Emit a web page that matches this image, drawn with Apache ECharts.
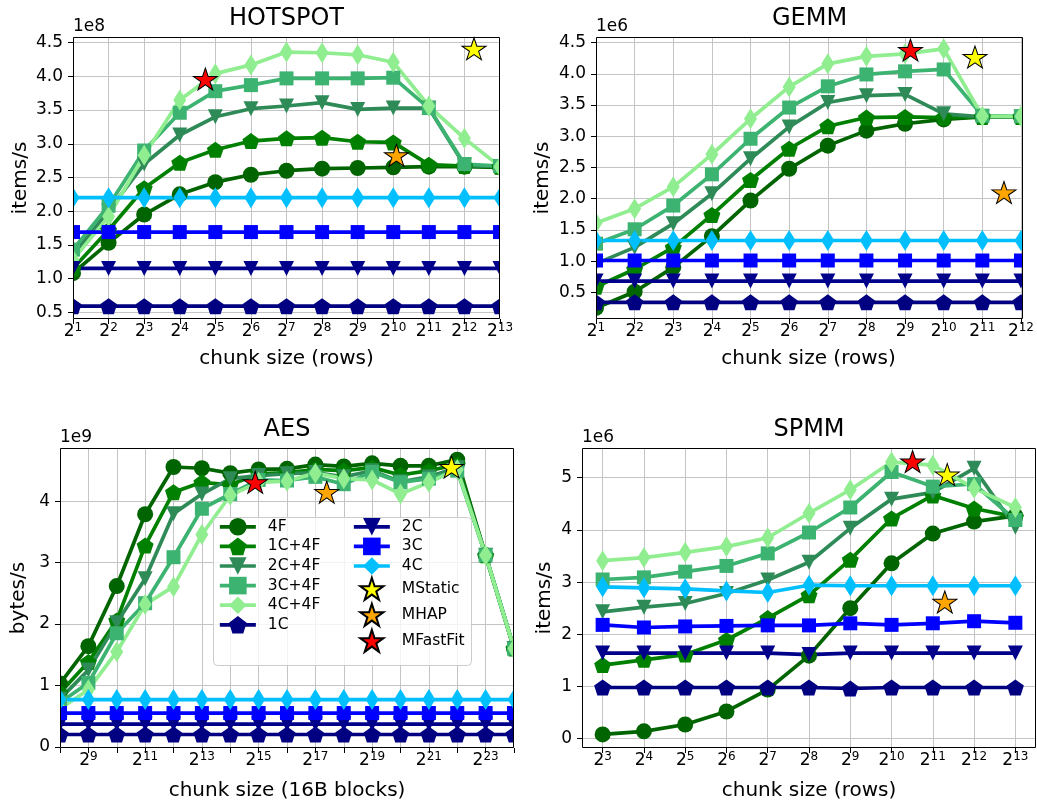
<!DOCTYPE html>
<html><head><meta charset="utf-8">
<script src="https://cdn.jsdelivr.net/npm/echarts@6/dist/echarts.min.js"></script>
<style>html,body{margin:0;padding:0;background:#fff;}#c{width:1037px;height:806px;}</style>
</head><body><div id="c"></div>
<script>
// ================= DATA =================
const seriesNames = ['4F','1C+4F','2C+4F','3C+4F','4C+4F','1C','2C','3C','4C'];
const starNames = ['MStatic','MHAP','MFastFit'];

// ---- HOTSPOT (items/s, x1e8); x = log2(chunk size in rows)
const hotspotExp   = [1,2,3,4,5,6,7,8,9,10,11,12,13];
const hotspot4F    = [1.08,1.53,1.95,2.25,2.43,2.54,2.60,2.63,2.64,2.65,2.66,2.66,2.65];
const hotspot1C4F  = [1.15,1.72,2.34,2.72,2.91,3.04,3.08,3.09,3.03,3.02,2.69,2.67,2.66];
const hotspot2C4F  = [1.35,2.00,2.70,3.13,3.40,3.52,3.56,3.61,3.51,3.53,3.53,2.68,2.66];
const hotspot3C4F  = [1.43,2.08,2.90,3.46,3.78,3.87,3.97,3.97,3.97,3.98,3.53,2.70,2.67];
const hotspot4C4F  = [1.28,1.92,2.83,3.65,4.04,4.17,4.36,4.35,4.32,4.21,3.56,3.08,2.66];
const hotspot1C    = [0.59,0.59,0.59,0.59,0.59,0.59,0.59,0.59,0.59,0.59,0.59,0.59,0.59];
const hotspot2C    = [1.15,1.15,1.15,1.15,1.15,1.15,1.15,1.15,1.15,1.15,1.15,1.15,1.15];
const hotspot3C    = [1.69,1.69,1.69,1.69,1.69,1.69,1.69,1.69,1.69,1.69,1.69,1.69,1.69];
const hotspot4C    = [2.20,2.20,2.20,2.20,2.20,2.20,2.20,2.20,2.20,2.20,2.20,2.20,2.20];
const hotspotMStatic  = [12.27, 4.41];
const hotspotMHAP     = [10.09, 2.83];
const hotspotMFastFit = [4.72, 3.96];
const hotspotXTicks = [1,2,3,4,5,6,7,8,9,10,11,12,13];
const hotspotYTicks = [0.5,1.0,1.5,2.0,2.5,3.0,3.5,4.0,4.5];

// ---- GEMM (items/s, x1e6)
const gemmExp   = [1,2,3,4,5,6,7,8,9,10,11,12];
const gemm4F    = [0.25,0.51,0.90,1.40,1.97,2.48,2.85,3.09,3.20,3.27,3.31,3.31];
const gemm1C4F  = [0.59,0.87,1.22,1.74,2.30,2.80,3.16,3.30,3.31,3.30,3.31,3.31];
const gemm2C4F  = [0.96,1.22,1.60,2.08,2.64,3.15,3.54,3.65,3.67,3.36,3.31,3.31];
const gemm3C4F  = [1.28,1.51,1.89,2.39,2.96,3.46,3.80,3.99,4.04,4.07,3.33,3.32];
const gemm4C4F  = [1.61,1.84,2.19,2.71,3.28,3.79,4.16,4.28,4.32,4.40,3.32,3.32];
const gemm1C    = [0.34,0.34,0.34,0.34,0.34,0.34,0.34,0.34,0.34,0.34,0.34,0.34];
const gemm2C    = [0.68,0.68,0.68,0.68,0.68,0.68,0.68,0.68,0.68,0.68,0.68,0.68];
const gemm3C    = [1.01,1.01,1.01,1.01,1.01,1.01,1.01,1.01,1.01,1.01,1.01,1.01];
const gemm4C    = [1.33,1.33,1.33,1.33,1.33,1.33,1.33,1.33,1.33,1.33,1.33,1.33];
const gemmMStatic  = [10.81, 4.27];
const gemmMHAP     = [11.56, 2.10];
const gemmMFastFit = [9.14, 4.38];
const gemmXTicks = [1,2,3,4,5,6,7,8,9,10,11,12];
const gemmYTicks = [0.5,1.0,1.5,2.0,2.5,3.0,3.5,4.0,4.5];

// ---- AES (bytes/s, x1e9); x = log2(chunk size in 16B blocks)
const aesExp   = [8,9,10,11,12,13,14,15,16,17,18,19,20,21,22,23,24];
const aes4F    = [1.03,1.64,2.62,3.79,4.56,4.54,4.46,4.52,4.53,4.60,4.57,4.62,4.58,4.58,4.68,3.12,1.60];
const aes1C4F  = [0.88,1.38,2.06,3.28,4.15,4.31,4.27,4.45,4.47,4.52,4.50,4.55,4.43,4.50,4.60,3.12,1.60];
const aes2C4F  = [0.78,1.25,2.02,2.74,3.80,4.12,4.37,4.42,4.45,4.47,4.40,4.50,4.32,4.40,4.55,3.12,1.60];
const aes3C4F  = [0.72,1.04,1.85,2.34,3.09,3.88,4.12,4.35,4.34,4.40,4.28,4.48,4.31,4.37,4.50,3.12,1.60];
const aes4C4F  = [0.62,0.93,1.55,2.32,2.61,3.46,4.10,4.31,4.33,4.46,4.37,4.35,4.12,4.31,4.52,3.12,1.60];
const aes1C    = [0.20,0.20,0.20,0.20,0.20,0.20,0.20,0.20,0.20,0.20,0.20,0.20,0.20,0.20,0.20,0.20,0.20];
const aes2C    = [0.37,0.37,0.37,0.37,0.37,0.37,0.37,0.37,0.37,0.37,0.37,0.37,0.37,0.37,0.37,0.37,0.37];
const aes3C    = [0.55,0.55,0.55,0.55,0.55,0.55,0.55,0.55,0.55,0.55,0.55,0.55,0.55,0.55,0.55,0.55,0.55];
const aes4C    = [0.77,0.77,0.77,0.77,0.77,0.77,0.77,0.77,0.77,0.77,0.77,0.77,0.77,0.77,0.77,0.77,0.77];
const aesMStatic  = [21.80, 4.56];
const aesMHAP     = [17.40, 4.15];
const aesMFastFit = [14.88, 4.31];
const aesXTicks  = [8,9,10,11,12,13,14,15,16,17,18,19,20,21,22,23,24];
const aesXLabels = [9,11,13,15,17,19,21,23];
const aesYTicks  = [0,1,2,3,4];

// ---- SPMM (items/s, x1e6)
const spmmExp   = [3,4,5,6,7,8,9,10,11,12,13];
const spmm4F    = [0.08,0.14,0.27,0.52,0.94,1.59,2.50,3.36,3.93,4.16,4.27];
const spmm1C4F  = [1.41,1.51,1.61,1.89,2.31,2.75,3.43,4.22,4.66,4.41,4.25];
const spmm2C4F  = [2.43,2.52,2.59,2.78,3.04,3.38,4.03,4.59,4.72,5.18,4.05];
const spmm3C4F  = [3.05,3.09,3.20,3.31,3.55,3.95,4.43,5.11,4.83,4.88,4.19];
const spmm4C4F  = [3.41,3.47,3.57,3.68,3.85,4.32,4.77,5.30,5.24,4.80,4.43];
const spmm1C    = [0.98,0.98,0.98,0.98,0.98,0.98,0.96,0.98,0.98,0.98,0.98];
const spmm2C    = [1.64,1.64,1.64,1.64,1.64,1.61,1.64,1.64,1.64,1.64,1.64];
const spmm3C    = [2.18,2.13,2.15,2.16,2.17,2.17,2.21,2.18,2.21,2.25,2.22];
const spmm4C    = [2.91,2.89,2.87,2.83,2.80,2.94,2.93,2.93,2.93,2.93,2.93];
const spmmMStatic  = [11.35, 5.06];
const spmmMHAP     = [11.29, 2.62];
const spmmMFastFit = [10.51, 5.31];
const spmmXTicks = [3,4,5,6,7,8,9,10,11,12,13];
const spmmYTicks = [0,1,2,3,4,5];

// ================= STYLE / LAYOUT =================
const FONT = 'DejaVu Sans';
const PENTAGON = 'path://M0,-1L0.9511,-0.309L0.5878,0.809L-0.5878,0.809L-0.9511,-0.309Z';
function starPath(){const p=[];for(let i=0;i<10;i++){const r=i%2?0.382:1;const a=(-90+36*i)*Math.PI/180;p.push((i?'L':'M')+(r*Math.cos(a)).toFixed(4)+','+(r*Math.sin(a)).toFixed(4));}return 'path://'+p.join('')+'Z';}
const STAR = starPath();
const LW = 3.7;

const lineStyleDefs = [
  {color:'#006400', symbol:'circle', size:16},
  {color:'#008000', symbol:PENTAGON, size:[17,16]},
  {color:'#2E8B57', symbol:'triangle', size:15, rotate:180},
  {color:'#3CB371', symbol:'rect', size:14},
  {color:'#90EE90', symbol:'diamond', size:[13,21]},
  {color:'#000080', symbol:PENTAGON, size:[17,16]},
  {color:'#00008B', symbol:'triangle', size:15, rotate:180},
  {color:'#0000FF', symbol:'rect', size:14},
  {color:'#00BFFF', symbol:'diamond', size:[13,21]}
];
const starColors = ['#FFFF00','#FFA500','#FF0000'];

const panels = [
  {title:'HOTSPOT', scale:'1e8', grid:{left:73,top:37,width:427,height:282},
   xMin:1, xMax:13, xTicks:hotspotXTicks, xLabels:hotspotXTicks,
   yMin:0.4, yMax:4.584, yTicks:hotspotYTicks, yDec:1,
   exps:hotspotExp, lines:[hotspot4F,hotspot1C4F,hotspot2C4F,hotspot3C4F,hotspot4C4F,hotspot1C,hotspot2C,hotspot3C,hotspot4C],
   stars:[hotspotMStatic,hotspotMHAP,hotspotMFastFit],
   xName:'chunk size (rows)', yName:'items/s', xNameGap:30, yNameGap:42},
  {title:'GEMM', scale:'1e6', grid:{left:596,top:37,width:427,height:282},
   xMin:1, xMax:12, xTicks:gemmXTicks, xLabels:gemmXTicks,
   yMin:0.073, yMax:4.59, yTicks:gemmYTicks, yDec:1,
   exps:gemmExp, lines:[gemm4F,gemm1C4F,gemm2C4F,gemm3C4F,gemm4C4F,gemm1C,gemm2C,gemm3C,gemm4C],
   stars:[gemmMStatic,gemmMHAP,gemmMFastFit],
   xName:'chunk size (rows)', yName:'items/s', xNameGap:30, yNameGap:43},
  {title:'AES', scale:'1e9', grid:{left:60,top:448,width:454,height:300},
   xMin:8, xMax:24, xTicks:aesXTicks, xLabels:aesXLabels,
   yMin:-0.02, yMax:4.87, yTicks:aesYTicks, yDec:0,
   exps:aesExp, lines:[aes4F,aes1C4F,aes2C4F,aes3C4F,aes4C4F,aes1C,aes2C,aes3C,aes4C],
   stars:[aesMStatic,aesMHAP,aesMFastFit],
   xName:'chunk size (16B blocks)', yName:'bytes/s', xNameGap:33, yNameGap:31},
  {title:'SPMM', scale:'1e6', grid:{left:582,top:448,width:454,height:300},
   xMin:2.5, xMax:13.5, xTicks:spmmXTicks, xLabels:spmmXTicks,
   yMin:-0.18, yMax:5.57, yTicks:spmmYTicks, yDec:0,
   exps:spmmExp, lines:[spmm4F,spmm1C4F,spmm2C4F,spmm3C4F,spmm4C4F,spmm1C,spmm2C,spmm3C,spmm4C],
   stars:[spmmMStatic,spmmMHAP,spmmMFastFit],
   xName:'chunk size (rows)', yName:'items/s', xNameGap:33, yNameGap:27}
];

const grids=[], xAxes=[], yAxes=[], series=[], graphics=[];
const gridLine = {color:'#c4c4c4', width:1};
panels.forEach((p,i)=>{
  grids.push(Object.assign({containLabel:false}, p.grid));
  xAxes.push({gridIndex:i, type:'value', min:p.xMin, max:p.xMax, position:'bottom', z:0,
    axisLine:{show:false,onZero:false}, axisTick:{show:false, customValues:p.xTicks},
    axisLabel:{show:false}, splitLine:{show:true, lineStyle:gridLine}});
  xAxes.push({gridIndex:i, type:'value', min:p.xMin, max:p.xMax, position:'bottom', z:60,
    axisLine:{show:false,onZero:false},
    axisTick:{show:true, customValues:p.xTicks, length:5, lineStyle:{color:'#000',width:1}},
    axisLabel:{show:true, customValues:p.xLabels, margin:3,
      formatter:(v)=>'{b|2}{s|'+Math.round(v)+'}',
      rich:{b:{fontSize:17, fontFamily:FONT, color:'#000', verticalAlign:'bottom', lineHeight:18},
            s:{fontSize:12, fontFamily:FONT, color:'#000', verticalAlign:'bottom', lineHeight:18, padding:[0,0,6,0]}}},
    splitLine:{show:false},
    name:p.xName, nameLocation:'middle', nameGap:p.xNameGap,
    nameTextStyle:{fontSize:20, fontFamily:FONT, color:'#000'}});
  yAxes.push({gridIndex:i, type:'value', min:p.yMin, max:p.yMax, position:'left', z:0,
    axisLine:{show:false,onZero:false}, axisTick:{show:false, customValues:p.yTicks},
    axisLabel:{show:false}, splitLine:{show:true, lineStyle:gridLine}});
  yAxes.push({gridIndex:i, type:'value', min:p.yMin, max:p.yMax, position:'left', z:60,
    axisLine:{show:false,onZero:false},
    axisTick:{show:true, customValues:p.yTicks, length:5, lineStyle:{color:'#000',width:1}},
    axisLabel:{show:true, customValues:p.yTicks, margin:10, fontSize:17, fontFamily:FONT, color:'#000',
      formatter:(v)=>v.toFixed(p.yDec)},
    splitLine:{show:false},
    name:p.yName, nameLocation:'middle', nameGap:p.yNameGap,
    nameTextStyle:{fontSize:20, fontFamily:FONT, color:'#000'}});

  p.lines.forEach((vals,k)=>{
    const st = lineStyleDefs[k];
    series.push({type:'line', name:seriesNames[k], xAxisIndex:2*i, yAxisIndex:2*i,
      data:p.exps.map((e,j)=>[e, vals[j]]),
      symbol:st.symbol, symbolSize:st.size, symbolRotate:st.rotate||0, symbolKeepAspect:false,
      showSymbol:true, showAllSymbol:true, clip:false,
      lineStyle:{color:st.color, width:LW}, itemStyle:{color:st.color, borderWidth:0},
      emphasis:{disabled:true}, z:2, animation:false});
  });
  p.stars.forEach((pt,k)=>{
    series.push({type:'scatter', name:starNames[k], xAxisIndex:2*i, yAxisIndex:2*i,
      data:[pt], symbol:STAR, symbolSize:[24,23], symbolKeepAspect:true, clip:false,
      itemStyle:{color:starColors[k], borderColor:'#000', borderWidth:1, opacity:1},
      emphasis:{disabled:true}, z:3, animation:false});
  });

  const g = p.grid, L=g.left, T=g.top, R=g.left+g.width;
  graphics.push({type:'rect', z:50, silent:true, shape:{x:L-11, y:T-2, width:11, height:g.height+4}, style:{fill:'#fff'}});
  graphics.push({type:'rect', z:50, silent:true, shape:{x:R, y:T-2, width:12, height:g.height+4}, style:{fill:'#fff'}});
  graphics.push({type:'rect', z:55, silent:true, shape:{x:L+0.5, y:T+0.5, width:g.width-1, height:g.height-1}, style:{fill:'none', stroke:'#000', lineWidth:1}});
  graphics.push({type:'text', z:60, x:L+g.width/2, y:T-30, silent:true,
    style:{text:p.title, fill:'#000', font:'24px "DejaVu Sans"', fontSize:24, fontFamily:FONT,
      align:'center', textAlign:'center', verticalAlign:'top', textVerticalAlign:'top'}});
  graphics.push({type:'text', z:60, x:L, y:T-19, silent:true,
    style:{text:p.scale, fill:'#000', font:'17px "DejaVu Sans"', fontSize:17, fontFamily:FONT,
      align:'left', textAlign:'left', verticalAlign:'top', textVerticalAlign:'top'}});
});

graphics.push({type:'rect', z:65, silent:true, shape:{x:213.5, y:517.5, width:258, height:148, r:4},
  style:{fill:'rgba(255,255,255,0.8)', stroke:'#cccccc', lineWidth:1}});

const legendCommon = {orient:'vertical', itemWidth:36, itemHeight:22, itemGap:2, padding:0,
  selectedMode:false, z:70,
  lineStyle:{width:LW},
  textStyle:{fontSize:15.5, fontFamily:FONT, color:'#000', padding:[0,0,0,7]}};

const option = {
  animation:false,
  backgroundColor:'#fff',
  grid:grids, xAxis:xAxes, yAxis:yAxes, series:series,
  legend:[
    Object.assign({}, legendCommon, {left:218, top:518, data:['4F','1C+4F','2C+4F','3C+4F','4C+4F','1C']}),
    Object.assign({}, legendCommon, {left:352, top:518, data:['2C','3C','4C','MStatic','MHAP','MFastFit']})
  ],
  graphic:{elements:graphics}
};
const chart = echarts.init(document.getElementById('c'), null, {renderer:'canvas'});
chart.setOption(option);
</script></body></html>
